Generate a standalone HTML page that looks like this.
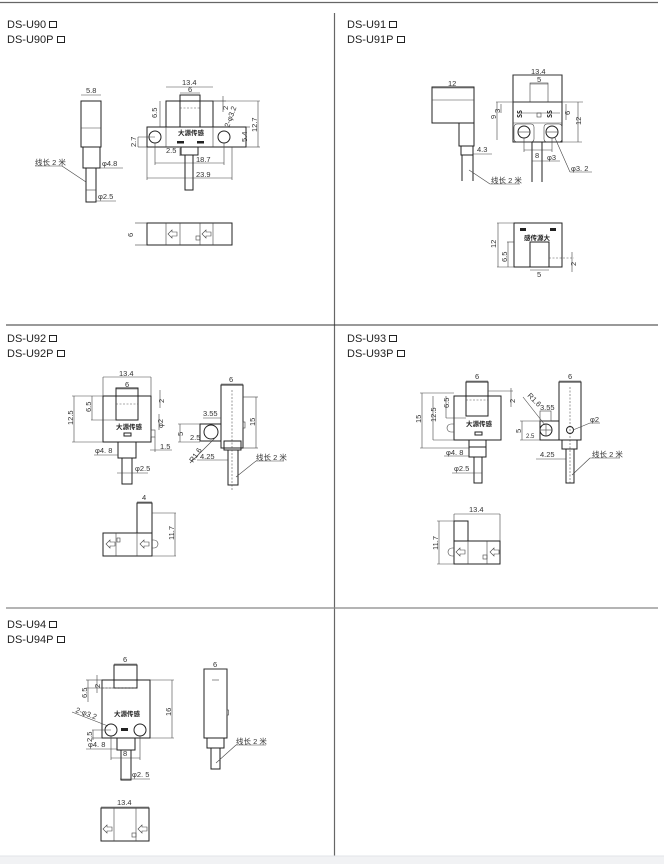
<!DOCTYPE html>
<html><head><meta charset="utf-8"><style>
html,body{margin:0;padding:0;background:#fff;width:664px;height:864px;overflow:hidden}
svg{display:block}
.t{font-family:"Liberation Sans","Noto Sans CJK SC",sans-serif;font-size:11px;fill:#222}
.d{font-family:"Liberation Sans","Noto Sans CJK SC",sans-serif;font-size:7.5px;fill:#333}
.c{font-family:"Noto Sans CJK SC",sans-serif;font-size:6.5px;font-weight:bold;fill:#222}
.l{stroke:#222;stroke-width:1;fill:none}
.th{stroke:#444;stroke-width:.6;fill:none}
.da{stroke:#555;stroke-width:.6;fill:none;stroke-dasharray:2 1.5}
</style></head><body>
<svg width="664" height="864" viewBox="0 0 664 864">
<line x1="0" y1="2.5" x2="658" y2="2.5" stroke="#666" stroke-width="1.2"/>
<line x1="334.5" y1="13" x2="334.5" y2="856" stroke="#666" stroke-width="1.2"/>
<line x1="6" y1="325" x2="658" y2="325" stroke="#333" stroke-width="1"/>
<line x1="6" y1="608" x2="658" y2="608" stroke="#888" stroke-width="1.2"/>
<rect x="0" y="856" width="664" height="8" fill="#f1f2f4"/>
<line x1="0" y1="856" x2="664" y2="856" stroke="#e2e4e8"/>

<text class="t" x="7" y="28">DS-U90</text><rect x="49.5" y="21.5" width="7" height="6" class="l"/>
<text class="t" x="7" y="43">DS-U90P</text><rect x="57.5" y="36.5" width="7" height="6" class="l"/>
<text class="t" x="347" y="28">DS-U91</text><rect x="389.5" y="21.5" width="7" height="6" class="l"/>
<text class="t" x="347" y="43">DS-U91P</text><rect x="397.5" y="36.5" width="7" height="6" class="l"/>
<text class="t" x="7" y="342">DS-U92</text><rect x="49.5" y="335.5" width="7" height="6" class="l"/>
<text class="t" x="7" y="357">DS-U92P</text><rect x="57.5" y="350.5" width="7" height="6" class="l"/>
<text class="t" x="347" y="342">DS-U93</text><rect x="389.5" y="335.5" width="7" height="6" class="l"/>
<text class="t" x="347" y="357">DS-U93P</text><rect x="397.5" y="350.5" width="7" height="6" class="l"/>
<text class="t" x="7" y="628">DS-U94</text><rect x="49.5" y="621.5" width="7" height="6" class="l"/>
<text class="t" x="7" y="643">DS-U94P</text><rect x="57.5" y="636.5" width="7" height="6" class="l"/>

<!-- U90 -->
<g>
<rect x="81" y="101" width="20" height="46" class="l"/>
<line x1="81" y1="128" x2="101" y2="128" class="th"/>
<rect x="83" y="147" width="17" height="21" class="l"/>
<rect x="86" y="168" width="10" height="34" class="l"/>
<line x1="86" y1="190" x2="96" y2="190" class="th"/>
<line x1="81" y1="95" x2="101" y2="95" class="th"/><text class="d" x="86" y="93">5.8</text>
<text class="d" x="35" y="165">线长 2 米</text><line x1="35" y1="166" x2="62" y2="166" class="th"/><line x1="62" y1="166" x2="86" y2="182" class="th"/>
<line x1="100" y1="168" x2="123" y2="168" class="th"/><text class="d" x="102" y="166">φ4.8</text>
<line x1="96" y1="201" x2="116" y2="201" class="th"/><text class="d" x="98" y="199">φ2.5</text>

<rect x="166" y="101" width="47" height="26" class="l"/>
<rect x="180" y="95" width="20" height="32" class="l"/>
<line x1="180" y1="108" x2="200" y2="108" class="da"/>
<rect x="147" y="127" width="99" height="20" class="l"/>
<line x1="166" y1="127" x2="166" y2="147" class="th"/><line x1="213" y1="127" x2="213" y2="147" class="th"/>
<circle cx="155" cy="137" r="6" class="l"/><circle cx="224" cy="137" r="6" class="l"/>
<rect x="177" y="141" width="7" height="2.5" fill="#222"/><rect x="197" y="141" width="7" height="2.5" fill="#222"/>
<text class="c" x="178" y="135">大源传感</text>
<rect x="181" y="147" width="17" height="8" class="l"/>
<rect x="185" y="155" width="8" height="35" class="l"/>
<line x1="166" y1="87" x2="213" y2="87" class="th"/><text class="d" x="182" y="85">13.4</text>
<line x1="180" y1="93" x2="200" y2="93" class="th"/><text class="d" x="188" y="92">6</text>
<line x1="160" y1="101" x2="160" y2="127" class="th"/><text class="d" transform="translate(157,118) rotate(-90)">6.5</text>
<line x1="200" y1="101" x2="226" y2="101" class="th"/><line x1="223" y1="96" x2="223" y2="112" class="th"/><text class="d" transform="translate(228,110) rotate(-90)">2</text>
<text class="d" transform="translate(229,128) rotate(-70)">2-φ3.2</text>
<line x1="213" y1="101" x2="260" y2="101" class="th"/><line x1="246" y1="147" x2="260" y2="147" class="th"/><line x1="258" y1="101" x2="258" y2="147" class="th"/><text class="d" transform="translate(257,132) rotate(-90)">12.7</text>
<line x1="246" y1="127" x2="250" y2="127" class="th"/><text class="d" transform="translate(247,142) rotate(-90)">5.4</text>
<line x1="138" y1="137" x2="155" y2="137" class="th"/><line x1="138" y1="147" x2="147" y2="147" class="th"/><line x1="138" y1="137" x2="138" y2="147" class="th"/><text class="d" transform="translate(136,147) rotate(-90)">2.7</text>
<text class="d" x="166" y="153">2.5</text><line x1="180" y1="148" x2="180" y2="156" class="th"/>
<line x1="155" y1="143" x2="155" y2="165" class="th"/><line x1="224" y1="143" x2="224" y2="165" class="th"/><line x1="155" y1="163" x2="224" y2="163" class="th"/><text class="d" x="196" y="162">18.7</text>
<line x1="147" y1="147" x2="147" y2="180" class="th"/><line x1="232" y1="147" x2="232" y2="180" class="th"/><line x1="147" y1="178" x2="232" y2="178" class="th"/><text class="d" x="196" y="177">23.9</text>

<rect x="147" y="223" width="85" height="22" class="l"/>
<line x1="166" y1="223" x2="166" y2="245" class="th"/><line x1="180" y1="223" x2="180" y2="245" class="th"/><line x1="200" y1="223" x2="200" y2="245" class="th"/><line x1="213" y1="223" x2="213" y2="245" class="th"/>
<path d="M168 234 l4 -4 v2 h5 v4 h-5 v2 z" class="th"/><path d="M202 234 l4 -4 v2 h5 v4 h-5 v2 z" class="th"/>
<rect x="196" y="236" width="4" height="4" class="th"/>
<line x1="135" y1="223" x2="147" y2="223" class="th"/><line x1="135" y1="245" x2="147" y2="245" class="th"/><text class="d" transform="translate(133,237) rotate(-90)">6</text>
</g>

<!-- U91 -->
<g>
<rect x="432" y="87" width="42" height="36" class="l"/>
<line x1="432" y1="100" x2="474" y2="100" class="th"/>
<rect x="459" y="123" width="15" height="23" class="l"/>
<line x1="432" y1="123" x2="459" y2="123" class="l"/>
<rect x="461" y="146" width="12" height="9" class="l"/>
<path d="M462 155 v26 M473 155 v26" class="l"/>
<line x1="432" y1="88" x2="474" y2="88" class="th"/><text class="d" x="448" y="86">12</text>
<line x1="473" y1="154" x2="492" y2="154" class="th"/><text class="d" x="477" y="152">4.3</text>
<line x1="469" y1="170" x2="490" y2="184" class="th"/><line x1="490" y1="184" x2="520" y2="184" class="th"/><text class="d" x="491" y="183">线长 2 米</text>

<rect x="513" y="75" width="49" height="67" class="l"/>
<rect x="530" y="83" width="18" height="19" class="th"/>
<line x1="513" y1="102" x2="562" y2="102" class="l"/>
<line x1="496" y1="102" x2="583" y2="102" class="th"/>
<line x1="518" y1="113" x2="560" y2="113" class="th"/>
<text class="c" transform="translate(522,118) rotate(-90)">SS</text><text class="c" transform="translate(552,118) rotate(-90)">SS</text>
<rect x="537" y="113" width="4" height="4" class="th"/>
<line x1="513" y1="123" x2="562" y2="123" class="th"/>
<rect x="514" y="124" width="20" height="18" rx="3" class="th"/><rect x="544" y="124" width="18" height="18" rx="3" class="th"/>
<circle cx="524" cy="132" r="6" class="l"/><line x1="518" y1="132" x2="530" y2="132" class="th"/>
<circle cx="552" cy="132" r="6" class="l"/><line x1="546" y1="132" x2="558" y2="132" class="th"/>
<path d="M532 142 v40 M542 142 v40" class="l"/>
<line x1="513" y1="75" x2="562" y2="75" class="th"/><text class="d" x="531" y="74">13.4</text>
<line x1="530" y1="84" x2="548" y2="84" class="th"/><text class="d" x="537" y="82">5</text>
<line x1="497" y1="102" x2="497" y2="140" class="th"/><text class="d" transform="translate(496,119) rotate(-90)">9</text>
<line x1="501" y1="104" x2="501" y2="113" class="th"/><text class="d" transform="translate(500,113) rotate(-90)">3</text>
<line x1="566" y1="104" x2="566" y2="120" class="th"/><text class="d" transform="translate(570,115) rotate(-90)">6</text>
<line x1="578" y1="102" x2="578" y2="142" class="th"/><line x1="562" y1="142" x2="582" y2="142" class="th"/><text class="d" transform="translate(581,125) rotate(-90)">12</text>
<line x1="524" y1="138" x2="524" y2="152" class="th"/><line x1="552" y1="138" x2="552" y2="152" class="th"/><line x1="524" y1="150" x2="552" y2="150" class="th"/><text class="d" x="535" y="158">8</text>
<line x1="532" y1="161" x2="560" y2="161" class="th"/><text class="d" x="547" y="160">φ3</text>
<line x1="555" y1="138" x2="570" y2="172" class="th"/><line x1="570" y1="172" x2="592" y2="172" class="th"/><text class="d" x="571" y="171">φ3. 2</text>

<rect x="514" y="223" width="48" height="44" class="l"/>
<rect x="520" y="228" width="6" height="3" fill="#222"/><rect x="550" y="228" width="6" height="3" fill="#222"/>
<text class="c" x="524" y="240">感传源大</text>
<rect x="530" y="242" width="19" height="25" class="l"/>
<line x1="549" y1="258" x2="574" y2="258" class="da"/>
<line x1="497" y1="223" x2="514" y2="223" class="th"/><line x1="497" y1="267" x2="514" y2="267" class="th"/><line x1="498" y1="223" x2="498" y2="267" class="th"/><text class="d" transform="translate(496,248) rotate(-90)">12</text>
<line x1="507" y1="242" x2="514" y2="242" class="th"/><line x1="508" y1="242" x2="508" y2="267" class="th"/><text class="d" transform="translate(507,262) rotate(-90)">6.5</text>
<line x1="572" y1="252" x2="572" y2="272" class="th"/><text class="d" transform="translate(576,266) rotate(-90)">2</text>
<line x1="530" y1="270" x2="549" y2="270" class="th"/><text class="d" x="537" y="277">5</text>
</g>

<!-- U92 -->
<g>
<rect x="103" y="396" width="48" height="46" class="l"/>
<rect x="116" y="388" width="22" height="32" class="l"/>
<line x1="116" y1="404" x2="138" y2="404" class="da"/>
<text class="c" x="116" y="429">大源传感</text>
<rect x="124" y="433" width="7" height="3" class="l"/>
<rect x="151" y="430" width="4" height="7" class="th"/>
<rect x="118" y="442" width="18" height="16" class="l"/>
<rect x="122" y="458" width="10" height="26" class="l"/>
<line x1="103" y1="377" x2="151" y2="377" class="th"/><line x1="103" y1="377" x2="103" y2="396" class="th"/><line x1="151" y1="377" x2="151" y2="396" class="th"/><text class="d" x="119" y="376">13.4</text>
<line x1="116" y1="389" x2="138" y2="389" class="th"/><text class="d" x="125" y="387">6</text>
<line x1="72" y1="396" x2="103" y2="396" class="th"/><line x1="72" y1="442" x2="103" y2="442" class="th"/><line x1="74" y1="396" x2="74" y2="442" class="th"/><text class="d" transform="translate(73,425) rotate(-90)">12.5</text>
<line x1="91" y1="420" x2="116" y2="420" class="th"/><line x1="92" y1="396" x2="92" y2="420" class="th"/><text class="d" transform="translate(91,412) rotate(-90)">6.5</text>
<line x1="160" y1="390" x2="160" y2="408" class="th"/><text class="d" transform="translate(164,403) rotate(-90)">2</text>
<line x1="159" y1="414" x2="159" y2="430" class="th"/><text class="d" transform="translate(163,428) rotate(-90)">φ2</text>
<line x1="155" y1="437" x2="155" y2="452" class="th"/><line x1="150" y1="450" x2="172" y2="450" class="th"/><text class="d" x="160" y="449">1.5</text>
<line x1="94" y1="455" x2="118" y2="455" class="th"/><text class="d" x="95" y="453">φ4. 8</text>
<line x1="117" y1="473" x2="148" y2="473" class="th"/><text class="d" x="135" y="471">φ2.5</text>

<rect x="221" y="385" width="22" height="63" class="l"/>
<line x1="232" y1="390" x2="232" y2="490" class="da"/>
<rect x="200" y="424" width="21" height="17" class="l"/>
<circle cx="211" cy="432" r="7" class="l"/>
<rect x="243" y="422" width="2" height="6" class="th"/>
<rect x="224" y="441" width="17" height="9" class="l"/>
<rect x="228" y="450" width="10" height="35" class="l"/>
<line x1="221" y1="384" x2="243" y2="384" class="th"/><text class="d" x="229" y="382">6</text>
<line x1="203" y1="418" x2="221" y2="418" class="th"/><text class="d" x="203" y="416">3.55</text>
<line x1="178" y1="424" x2="200" y2="424" class="th"/><line x1="178" y1="442" x2="200" y2="442" class="th"/><line x1="180" y1="424" x2="180" y2="442" class="th"/><text class="d" transform="translate(183,436) rotate(-90)">5</text>
<text class="d" x="190" y="440">2.5</text>
<line x1="215" y1="438" x2="190" y2="463" class="th"/><text class="d" transform="translate(193,463) rotate(-55)">R1.6</text>
<text class="d" x="200" y="459">4.25</text><line x1="197" y1="460" x2="228" y2="460" class="th"/>
<line x1="243" y1="397" x2="258" y2="397" class="th"/><line x1="243" y1="448" x2="258" y2="448" class="th"/><line x1="256" y1="397" x2="256" y2="448" class="th"/><text class="d" transform="translate(255,426) rotate(-90)">15</text>
<line x1="236" y1="477" x2="256" y2="461" class="th"/><line x1="256" y1="461" x2="284" y2="461" class="th"/><text class="d" x="256" y="460">线长 2 米</text>

<rect x="137" y="503" width="15" height="30" class="l"/>
<rect x="103" y="533" width="49" height="23" class="l"/>
<line x1="116" y1="533" x2="116" y2="556" class="th"/><line x1="137" y1="533" x2="137" y2="556" class="th"/>
<path d="M106 544 l4 -4 v2 h5 v4 h-5 v2 z" class="th"/><path d="M140 544 l4 -4 v2 h5 v4 h-5 v2 z" class="th"/>
<rect x="117" y="538" width="3" height="4" class="th"/><path d="M152 540 h2 a4 4 0 0 1 0 8 h-2" class="th"/>
<line x1="137" y1="502" x2="152" y2="502" class="th"/><text class="d" x="142" y="500">4</text>
<line x1="152" y1="513" x2="176" y2="513" class="th"/><line x1="152" y1="556" x2="176" y2="556" class="th"/><line x1="175" y1="513" x2="175" y2="556" class="th"/><text class="d" transform="translate(174,540) rotate(-90)">11.7</text>
</g>

<!-- U93 -->
<g>
<rect x="454" y="396" width="47" height="44" class="l"/>
<rect x="466" y="382" width="22" height="34" class="l"/>
<line x1="466" y1="400" x2="488" y2="400" class="da"/>
<line x1="446" y1="418" x2="466" y2="418" class="th"/>
<text class="c" x="466" y="426">大源传感</text>
<rect x="475" y="432" width="7" height="3" class="l"/>
<path d="M454 424 h-3 a4 4 0 0 0 0 8 h3" class="th"/>
<rect x="469" y="440" width="17" height="7" class="l"/><rect x="469" y="447" width="17" height="10" class="l"/>
<rect x="474" y="457" width="8" height="26" class="l"/>
<line x1="466" y1="381" x2="488" y2="381" class="th"/><text class="d" x="475" y="379">6</text>
<line x1="488" y1="391" x2="513" y2="391" class="th"/><line x1="511" y1="388" x2="511" y2="407" class="th"/><text class="d" transform="translate(515,403) rotate(-90)">2</text>
<line x1="420" y1="393" x2="454" y2="393" class="th"/><line x1="420" y1="448" x2="469" y2="448" class="th"/><line x1="422" y1="393" x2="422" y2="448" class="th"/><text class="d" transform="translate(421,423) rotate(-90)">15</text>
<line x1="433" y1="396" x2="433" y2="440" class="th"/><line x1="433" y1="440" x2="454" y2="440" class="th"/><text class="d" transform="translate(436,422) rotate(-90)">12.5</text>
<line x1="446" y1="396" x2="446" y2="418" class="th"/><text class="d" transform="translate(449,408) rotate(-90)">6.5</text>
<line x1="444" y1="456" x2="469" y2="456" class="th"/><text class="d" x="446" y="455">φ4. 8</text>
<line x1="452" y1="473" x2="482" y2="473" class="th"/><text class="d" x="454" y="471">φ2.5</text>

<rect x="559" y="382" width="22" height="58" class="l"/>
<line x1="570" y1="387" x2="570" y2="485" class="da"/>
<rect x="540" y="421" width="19" height="19" class="l"/>
<rect x="540" y="411" width="11" height="10" class="th"/>
<circle cx="546" cy="430" r="6" class="l"/><line x1="540" y1="430" x2="552" y2="430" class="th"/><line x1="546" y1="424" x2="546" y2="436" class="th"/>
<circle cx="570" cy="430" r="3.5" class="l"/>
<rect x="562" y="440" width="15" height="9" class="l"/>
<rect x="566" y="449" width="8" height="34" class="l"/>
<line x1="559" y1="381" x2="581" y2="381" class="th"/><text class="d" x="568" y="379">6</text>
<text class="d" x="540" y="410">3.55</text>
<text class="d" transform="translate(527,396) rotate(45)">R1.6</text><line x1="523" y1="397" x2="545" y2="425" class="th"/>
<line x1="520" y1="421" x2="540" y2="421" class="th"/><line x1="520" y1="440" x2="540" y2="440" class="th"/><line x1="522" y1="421" x2="522" y2="440" class="th"/><text class="d" transform="translate(521,433) rotate(-90)">5</text>
<text class="d" x="526" y="438" style="font-size:6px">2.5</text>
<line x1="573" y1="430" x2="590" y2="423" class="th"/><line x1="590" y1="423" x2="600" y2="423" class="th"/><text class="d" x="590" y="422">φ2</text>
<line x1="536" y1="459" x2="566" y2="459" class="th"/><text class="d" x="540" y="457">4.25</text>
<line x1="572" y1="475" x2="590" y2="458" class="th"/><line x1="590" y1="458" x2="620" y2="458" class="th"/><text class="d" x="592" y="457">线长 2 米</text>

<rect x="454" y="521" width="14" height="20" class="l"/>
<rect x="454" y="541" width="46" height="23" class="l"/>
<line x1="468" y1="541" x2="468" y2="564" class="th"/><line x1="487" y1="541" x2="487" y2="564" class="th"/>
<path d="M456 552 l4 -4 v2 h5 v4 h-5 v2 z" class="th"/><path d="M490 552 l4 -4 v2 h5 v4 h-5 v2 z" class="th"/>
<path d="M454 548 h-2 a4 4 0 0 0 0 8 h2" class="th"/><rect x="483" y="555" width="4" height="4" class="th"/>
<line x1="454" y1="514" x2="500" y2="514" class="th"/><line x1="454" y1="514" x2="454" y2="521" class="th"/><line x1="500" y1="514" x2="500" y2="541" class="th"/><text class="d" x="469" y="512">13.4</text>
<line x1="437" y1="521" x2="454" y2="521" class="th"/><line x1="437" y1="564" x2="454" y2="564" class="th"/><line x1="439" y1="521" x2="439" y2="564" class="th"/><text class="d" transform="translate(438,550) rotate(-90)">11.7</text>
</g>

<!-- U94 -->
<g>
<rect x="102" y="680" width="48" height="58" class="l"/>
<rect x="114" y="665" width="23" height="23" class="l"/>
<line x1="102" y1="688" x2="137" y2="688" class="da"/>
<text class="c" x="114" y="716">大源传感</text>
<circle cx="111" cy="730" r="6" class="l"/><circle cx="140" cy="730" r="6" class="l"/>
<rect x="121" y="728" width="7" height="3" fill="#222"/>
<rect x="117" y="738" width="18" height="12" class="l"/>
<rect x="121" y="750" width="10" height="30" class="l"/>
<line x1="114" y1="664" x2="137" y2="664" class="th"/><text class="d" x="123" y="662">6</text>
<line x1="86" y1="680" x2="102" y2="680" class="th"/><line x1="86" y1="688" x2="114" y2="688" class="th"/><line x1="97" y1="675" x2="97" y2="693" class="th"/><text class="d" transform="translate(100,688) rotate(-90)">2</text>
<line x1="88" y1="680" x2="88" y2="702" class="th"/><text class="d" transform="translate(87,698) rotate(-90)">6.5</text>
<line x1="150" y1="680" x2="174" y2="680" class="th"/><line x1="150" y1="738" x2="174" y2="738" class="th"/><line x1="172" y1="680" x2="172" y2="738" class="th"/><text class="d" transform="translate(171,716) rotate(-90)">16</text>
<line x1="72" y1="712" x2="108" y2="726" class="th"/><text class="d" transform="translate(75,712) rotate(20)">2-φ3.2</text>
<line x1="92" y1="730" x2="111" y2="730" class="th"/><line x1="92" y1="738" x2="102" y2="738" class="th"/><line x1="93" y1="730" x2="93" y2="740" class="th"/><text class="d" transform="translate(92,742) rotate(-90)">2.5</text>
<line x1="86" y1="749" x2="117" y2="749" class="th"/><text class="d" x="88" y="747">φ4. 8</text>
<line x1="111" y1="736" x2="111" y2="760" class="th"/><line x1="140" y1="736" x2="140" y2="760" class="th"/><line x1="111" y1="758" x2="140" y2="758" class="th"/><text class="d" x="123" y="756">8</text>
<line x1="120" y1="779" x2="150" y2="779" class="th"/><text class="d" x="132" y="777">φ2. 5</text>

<rect x="204" y="669" width="23" height="69" class="l"/>
<line x1="212" y1="680" x2="219" y2="680" class="th"/>
<rect x="227" y="710" width="1.5" height="5" class="th"/>
<rect x="207" y="738" width="17" height="10" class="l"/>
<rect x="211" y="748" width="9" height="21" class="l"/>
<line x1="204" y1="669" x2="227" y2="669" class="th"/><text class="d" x="213" y="667">6</text>
<line x1="216" y1="763" x2="236" y2="745" class="th"/><line x1="236" y1="745" x2="266" y2="745" class="th"/><text class="d" x="236" y="744">线长 2 米</text>

<rect x="101" y="808" width="48" height="33" class="l"/>
<line x1="114" y1="808" x2="114" y2="841" class="th"/><line x1="136" y1="808" x2="136" y2="841" class="th"/>
<path d="M103 829 l4 -4 v2 h5 v4 h-5 v2 z" class="th"/><path d="M138 829 l4 -4 v2 h5 v4 h-5 v2 z" class="th"/>
<rect x="132" y="833" width="4" height="4" class="th"/>
<line x1="101" y1="807" x2="149" y2="807" class="th"/><text class="d" x="117" y="805">13.4</text>
</g>
</svg>
</body></html>
